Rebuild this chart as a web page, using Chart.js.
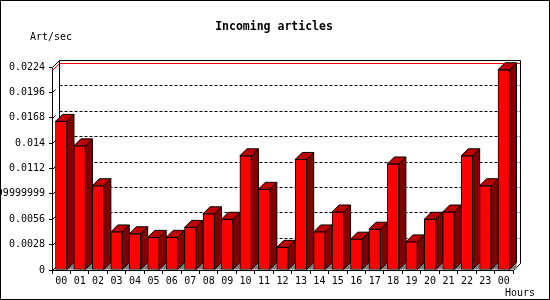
<!DOCTYPE html>
<html>
<head>
<meta charset="utf-8">
<script src="https://cdn.jsdelivr.net/npm/chart.js@4.4.1/dist/chart.umd.min.js"></script>
<style>
  html, body { margin: 0; padding: 0; background: #fff; }
  canvas { display: block; background: #fff; }
</style>
</head>
<body>
<canvas id="articlesChart" width="550" height="300"></canvas>
<script>
const hours = ['00','01','02','03','04','05','06','07','08','09','10','11',
               '12','13','14','15','16','17','18','19','20','21','22','23','00'];
const artPerSec = [0.0164, 0.0137, 0.0093, 0.0042, 0.0040, 0.0036, 0.0036, 0.0047,
                   0.0062, 0.0056, 0.0126, 0.0089, 0.0025, 0.0122, 0.0042, 0.0064,
                   0.0034, 0.0045, 0.0117, 0.0031, 0.0056, 0.0064, 0.0126, 0.0093, 0.0221];
const yTickValues = [0, 0.0028, 0.0056, 0.0084, 0.0112, 0.014, 0.0168, 0.0196, 0.0224];
const yTickLabels = ['0','0.0028','0.0056','0.008399999999999999','0.0112','0.014','0.0168','0.0196','0.0224'];

const MONO = "'DejaVu Sans Mono', monospace";
const DEPTH = 7;

// back walls, dotted grid, max line, and the side/top faces of the bars
const frame3d = {
    id: 'frame3d',
    beforeDatasetsDraw(chart) {
        const { ctx, chartArea: a, scales: { y } } = chart;
        const L = a.left + 0.5, R = a.right + 0.5, B = a.bottom + 0.5;
        const T = Math.round(y.getPixelForValue(yTickValues[yTickValues.length - 1])) + 0.5;
        ctx.save();
        ctx.lineWidth = 1;

        // dotted grid on the back wall
        ctx.strokeStyle = '#000';
        ctx.setLineDash([3, 2]);
        yTickValues.slice(1, -1).forEach(v => {
            const yy = Math.round(y.getPixelForValue(v)) - DEPTH + 0.5;
            ctx.beginPath();
            ctx.moveTo(L + DEPTH, yy);
            ctx.lineTo(R + DEPTH, yy);
            ctx.stroke();
        });
        ctx.setLineDash([]);

        // max value line
        const ym = Math.round(y.getPixelForValue(Math.max(...artPerSec))) + 0.5;
        ctx.strokeStyle = '#ff0000';
        ctx.beginPath();
        ctx.moveTo(L, ym);
        ctx.lineTo(L + DEPTH, ym - DEPTH);
        ctx.lineTo(R + DEPTH, ym - DEPTH);
        ctx.stroke();

        // frame
        ctx.strokeStyle = '#000';
        ctx.beginPath();
        ctx.moveTo(L, B);
        ctx.lineTo(L, T);
        ctx.lineTo(L + DEPTH, T - DEPTH);
        ctx.lineTo(R + DEPTH, T - DEPTH);
        ctx.lineTo(R + DEPTH, B - DEPTH);
        ctx.lineTo(R, B);
        ctx.lineTo(L, B);
        ctx.moveTo(L + DEPTH, T - DEPTH);
        ctx.lineTo(L + DEPTH, B - DEPTH);
        ctx.stroke();

        // little depth marks at each tick
        ctx.beginPath();
        yTickValues.slice(0, -1).forEach(v => {
            const yy = Math.round(y.getPixelForValue(v)) + 0.5;
            ctx.moveTo(L, yy);
            ctx.lineTo(L + 3, yy - 3);
        });
        ctx.stroke();

        // bar depth
        chart.getDatasetMeta(0).data.forEach(el => {
            const x0 = el.x - el.width / 2, x1 = el.x + el.width / 2;
            const top = el.y, base = el.base;
            ctx.fillStyle = '#808080';
            ctx.beginPath();
            ctx.moveTo(x1, base);
            ctx.lineTo(x1 + DEPTH, base - DEPTH);
            ctx.lineTo(x1 + DEPTH, base);
            ctx.closePath();
            ctx.fill();

            ctx.fillStyle = '#800000';
            ctx.beginPath();
            ctx.moveTo(x1, top);
            ctx.lineTo(x1 + DEPTH, top - DEPTH);
            ctx.lineTo(x1 + DEPTH, base - DEPTH);
            ctx.lineTo(x1, base);
            ctx.closePath();
            ctx.fill();
            ctx.stroke();

            ctx.fillStyle = '#c00000';
            ctx.beginPath();
            ctx.moveTo(x0, top);
            ctx.lineTo(x0 + DEPTH, top - DEPTH);
            ctx.lineTo(x1 + DEPTH, top - DEPTH);
            ctx.lineTo(x1, top);
            ctx.closePath();
            ctx.fill();
            ctx.stroke();
        });
        ctx.restore();
    },
    afterDraw(chart) {
        const { ctx } = chart;
        ctx.save();
        ctx.fillStyle = '#000';
        ctx.textBaseline = 'middle';
        ctx.font = 'bold 11.5px ' + MONO;
        ctx.textAlign = 'center';
        ctx.fillText('Incoming articles', 274, 27);
        ctx.font = '10px ' + MONO;
        ctx.textAlign = 'left';
        ctx.fillText('Art/sec', 30, 37);
        ctx.fillText('Hours', 505, 293);
        ctx.strokeStyle = '#000';
        ctx.lineWidth = 1;
        ctx.strokeRect(0.5, 0.5, 549, 299);
        ctx.restore();
    }
};

function initChart() {
    const ctx = document.getElementById('articlesChart').getContext('2d');
    new Chart(ctx, {
        type: 'bar',
        data: {
            labels: hours,
            datasets: [{
                data: artPerSec,
                backgroundColor: '#ff0000',
                borderColor: '#000',
                borderWidth: 1,
                borderSkipped: false,
                barThickness: 11.5
            }]
        },
        options: {
            responsive: false,
            animation: false,
            devicePixelRatio: 1,
            layout: { padding: { left: 0, top: 67, right: 37, bottom: 0 } },
            plugins: { legend: { display: false }, tooltip: { enabled: false } },
            scales: {
                x: {
                    afterFit: s => { s.height = 30; },
                    grid: { offset: true, drawOnChartArea: false, drawTicks: true, tickLength: 4, color: '#000' },
                    border: { display: false },
                    ticks: { padding: 1, color: '#000', font: { family: MONO, size: 10 }, maxRotation: 0, autoSkip: false }
                },
                y: {
                    min: 0, max: 0.0224,
                    afterFit: s => { s.width = 52; },
                    afterBuildTicks: s => { s.ticks = yTickValues.map(v => ({ value: v })); },
                    grid: { drawOnChartArea: false, drawTicks: true, tickLength: 3, color: '#000' },
                    border: { display: false },
                    ticks: {
                        padding: 4, color: '#000', font: { family: MONO, size: 10 },
                        callback: (v, i) => yTickLabels[i]
                    }
                }
            }
        },
        plugins: [frame3d]
    });
}

window.onload = initChart;
</script>
</body>
</html>
